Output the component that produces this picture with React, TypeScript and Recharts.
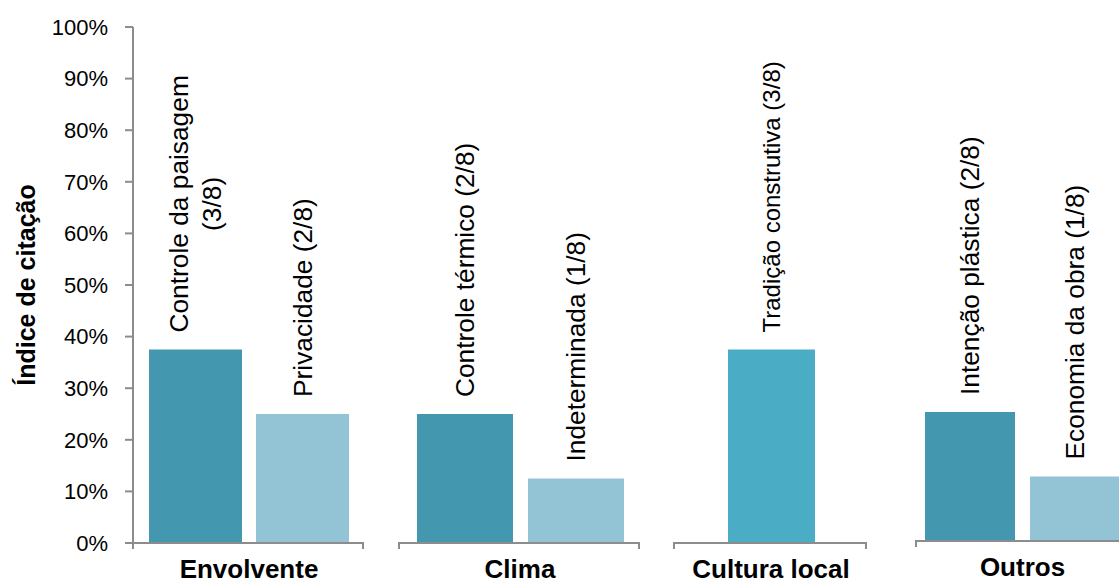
import { BarChart, Bar, XAxis, YAxis, LabelList } from "recharts";

const categories = ["Envolvente", "Clima", "Cultura local", "Outros"];
const firstValues = [37.5, 25, 37.5, 25];
const secondValues: (number | null)[] = [25, 12.5, null, 12.5];
const firstNames = [
  "Controle da paisagem\n(3/8)",
  "Controle térmico (2/8)",
  "Tradição construtiva (3/8)",
  "Intenção plástica (2/8)",
];
const secondNames: (string | null)[] = ["Privacidade (2/8)", "Indeterminada (1/8)", null, "Economia da obra (1/8)"];
const yTicks = [0, 10, 20, 30, 40, 50, 60, 70, 80, 90, 100];

const DARK = "#4398B0";
const LIGHT = "#93C4D6";
const MID = "#4BACC6";
const AXIS = "#8C8C8C";
const FONT = "'Liberation Sans', Arial, sans-serif";

// each panel is its own little chart: plot left edge, plot width, bar sizing, label font
const panels = [
  { left: 133, width: 232, barSize: 93, barGap: 14, color: DARK, labelSize: 26.3, shift: 0 },
  { left: 399, width: 242, barSize: 96, barGap: 15, color: DARK, labelSize: 26.3, shift: 0 },
  { left: 674, width: 194, barSize: 87, barGap: 0, color: MID, labelSize: 24, shift: 0 },
  { left: 916, width: 213, barSize: 90, barGap: 15, color: DARK, labelSize: 26.3, shift: -2 },
];

const PLOT_TOP = 27;
const PLOT_BOTTOM = 543;
const HEIGHT = 585;
const Y_AXIS_W = 133;

let ctx: CanvasRenderingContext2D | null = null;
function textWidth(s: string, size: number) {
  if (!ctx) ctx = document.createElement("canvas").getContext("2d");
  if (!ctx) return s.length * size * 0.5;
  ctx.font = `${size}px ${FONT}`;
  return ctx.measureText(s).width;
}

function makeLabel(size: number) {
  return (props: any) => {
    const { x, y, width, value } = props;
    if (!value) return null;
    const lines = String(value).split("\n");
    const maxW = Math.max(...lines.map((l) => textWidth(l, size)));
    const lh = size * 1.25;
    const cx = x + width / 2;
    const by = y - 17;
    return (
      <g transform={`translate(${cx}, ${by}) rotate(-90)`}>
        {lines.map((l, i) => (
          <text
            key={i}
            x={maxW / 2}
            y={(i - (lines.length - 1) / 2) * lh}
            textAnchor="middle"
            dominantBaseline="central"
            fontSize={size}
            fontFamily={FONT}
            fill="#000"
          >
            {l}
          </text>
        ))}
      </g>
    );
  };
}

function Panel({ i }: { i: number }) {
  const p = panels[i];
  const row = {
    cat: categories[i],
    first: firstValues[i],
    second: secondValues[i],
    firstName: firstNames[i],
    secondName: secondNames[i],
  };
  const withAxis = i === 0;
  const chartLeft = withAxis ? p.left - Y_AXIS_W : p.left;
  const chartW = withAxis ? p.width + Y_AXIS_W : p.width;
  const label = makeLabel(p.labelSize);
  return (
    <div style={{ position: "absolute", left: chartLeft, top: p.shift }}>
      <BarChart
        width={chartW}
        height={HEIGHT}
        data={[row]}
        margin={{ top: PLOT_TOP, right: 0, bottom: 0, left: 0 }}
        barGap={p.barGap}
      >
        <XAxis
          dataKey="cat"
          height={HEIGHT - PLOT_BOTTOM}
          axisLine={false}
          tickLine={false}
          tickSize={0}
          tickMargin={17}
          tick={{ fontSize: 26, fontWeight: "bold", fill: "#000", fontFamily: FONT }}
        />
        <YAxis
          hide={!withAxis}
          width={Y_AXIS_W}
          domain={[0, 100]}
          ticks={yTicks}
          interval={0}
          tickFormatter={(v) => `${v}%`}
          axisLine={{ stroke: AXIS, strokeWidth: 2 }}
          tickLine={{ stroke: AXIS, strokeWidth: 2 }}
          tickSize={8}
          tickMargin={17}
          tick={{ fontSize: 22, fill: "#000", fontFamily: FONT }}
          label={(lp: any) => {
            const vb = lp.viewBox || { x: 0, y: PLOT_TOP, height: PLOT_BOTTOM - PLOT_TOP };
            const tx = vb.x + 26;
            const ty = vb.y + vb.height / 2;
            return (
              <text
                x={tx}
                y={ty}
                transform={`rotate(-90 ${tx} ${ty})`}
                textAnchor="middle"
                dominantBaseline="central"
                fontSize={25}
                fontWeight="bold"
                fontFamily={FONT}
                fill="#000"
              >
                Índice de citação
              </text>
            );
          }}
        />
        <Bar dataKey="first" fill={p.color} barSize={p.barSize} isAnimationActive={false}>
          <LabelList dataKey="firstName" content={label} />
        </Bar>
        {row.second != null && (
          <Bar dataKey="second" fill={LIGHT} barSize={p.barSize} isAnimationActive={false}>
            <LabelList dataKey="secondName" content={label} />
          </Bar>
        )}
      </BarChart>
      {/* bracket-shaped category axis */}
      <div
        style={{
          position: "absolute",
          left: withAxis ? Y_AXIS_W - 1 : -1,
          top: PLOT_BOTTOM - 1,
          width: p.width,
          height: 7,
          borderTop: `2px solid ${AXIS}`,
          borderLeft: `2px solid ${AXIS}`,
          borderRight: `2px solid ${AXIS}`,
          boxSizing: "border-box",
        }}
      />
    </div>
  );
}

export default function App() {
  return (
    <div
      style={{
        position: "fixed",
        left: 0,
        top: 0,
        width: 1119,
        height: HEIGHT,
        overflow: "hidden",
        background: "#fff",
        fontFamily: FONT,
      }}
    >
      {categories.map((_, i) => (
        <Panel key={i} i={i} />
      ))}
    </div>
  );
}
